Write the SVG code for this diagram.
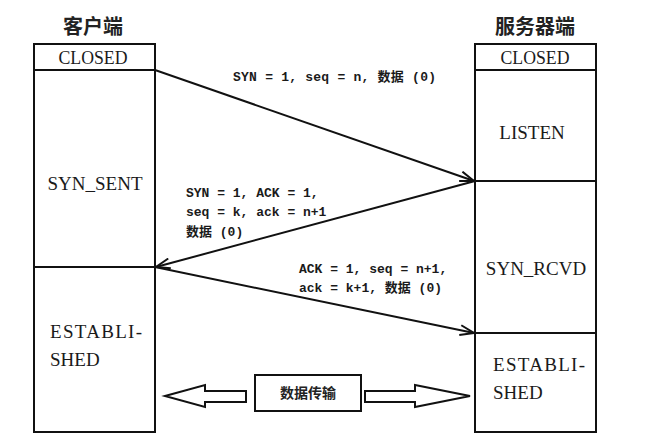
<svg xmlns="http://www.w3.org/2000/svg" width="650" height="447" viewBox="0 0 650 447">
<style>
.box{fill:none;stroke:#111;stroke-width:2}
.title{font-family:"Noto Sans CJK SC","Noto Sans",sans-serif;font-size:20px;font-weight:bold;fill:#222;text-anchor:middle}
.state{font-family:"Liberation Serif","Noto Sans CJK SC",serif;font-size:19px;fill:#1a1a1a}
.mid{text-anchor:middle}
.lbl{font-family:"Liberation Mono","Noto Sans CJK SC",monospace;font-size:13px;font-weight:bold;fill:#1a1a1a}
.conn{fill:none;stroke:#111;stroke-width:2}
.hollow{fill:#fff;stroke:#111;stroke-width:2}
.dt{font-family:"Noto Sans CJK SC",sans-serif;font-size:14px;font-weight:bold;fill:#222;text-anchor:middle}
</style>
<defs>
<marker id="arr" viewBox="0 0 16 12" markerWidth="16" markerHeight="12" refX="15" refY="6" orient="auto" markerUnits="userSpaceOnUse">
<path d="M1,1 L15,6 L1,11" fill="none" stroke="#111" stroke-width="2"/>
</marker>
</defs>
<rect width="650" height="447" fill="#fff"/>
<g id="client">
<text class="title" x="93" y="34">客户端</text>
<g id="client-closed"><rect class="box" x="34" y="44" width="121" height="26"/><text class="state mid" x="93" y="64" font-size="19" textLength="69" lengthAdjust="spacingAndGlyphs">CLOSED</text></g>
<g id="client-syn-sent"><rect class="box" x="34" y="70" width="121" height="197"/><text class="state mid" x="95" y="190">SYN_SENT</text></g>
<g id="client-established"><rect class="box" x="34" y="267" width="121" height="165"/><text class="state" x="50" y="338" textLength="92">ESTABLI-</text><text class="state" x="50" y="366">SHED</text></g>
</g>
<g id="server">
<text class="title" x="535" y="34">服务器端</text>
<g id="server-closed"><rect class="box" x="475" y="44" width="121" height="26"/><text class="state mid" x="535" y="64" font-size="19" textLength="69" lengthAdjust="spacingAndGlyphs">CLOSED</text></g>
<g id="server-listen"><rect class="box" x="475" y="70" width="121" height="111"/><text class="state mid" x="532" y="139">LISTEN</text></g>
<g id="server-syn-rcvd"><rect class="box" x="475" y="181" width="121" height="152"/><text class="state mid" x="536" y="275">SYN_RCVD</text></g>
<g id="server-established"><rect class="box" x="475" y="333" width="121" height="99"/><text class="state" x="493" y="371" textLength="92">ESTABLI-</text><text class="state" x="493" y="399">SHED</text></g>
</g>
<g id="connectors">
<line class="conn" x1="155" y1="70" x2="474" y2="181" marker-end="url(#arr)"/>
<line class="conn" x1="475" y1="181" x2="156" y2="267" marker-end="url(#arr)"/>
<line class="conn" x1="155" y1="267" x2="474" y2="333" marker-end="url(#arr)"/>
<text class="lbl" x="233" y="81" textLength="203">SYN = 1, seq = n, 数据 (0)</text>
<text class="lbl" x="186" y="197">SYN = 1, ACK = 1,</text>
<text class="lbl" x="186" y="216">seq = k, ack = n+1</text>
<text class="lbl" x="186" y="236">数据 (0)</text>
<text class="lbl" x="299" y="273">ACK = 1, seq = n+1,</text>
<text class="lbl" x="299" y="292">ack = k+1, 数据 (0)</text>
</g>
<g id="data-transfer">
<path class="hollow" d="M165,396 L205,385 L205,391 L246,391 L246,402 L205,402 L205,407 Z"/>
<rect class="box" x="255" y="375" width="106" height="36"/>
<text class="dt" x="308" y="398">数据传输</text>
<path class="hollow" d="M470,396 L415,385 L415,391 L365,391 L365,402 L415,402 L415,407 Z"/>
</g>
</svg>
